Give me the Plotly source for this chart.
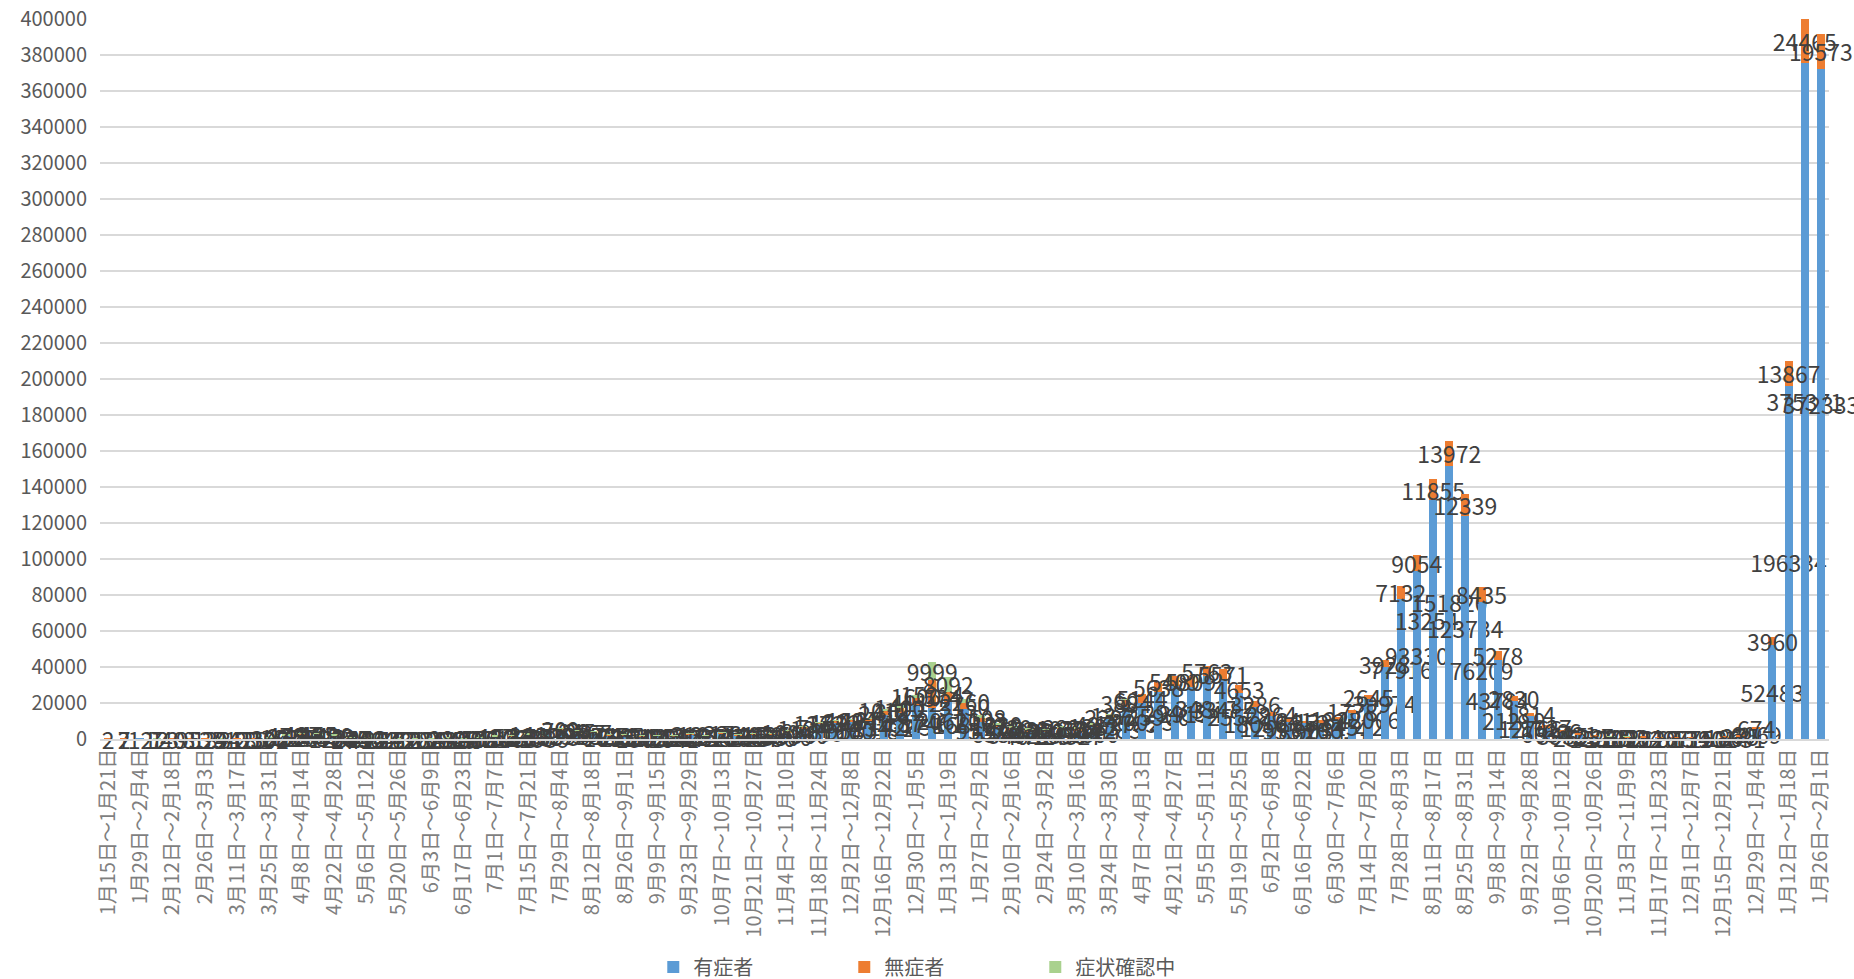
import plotly.graph_objects as go

categories = [
    "1月15日～1月21日", "1月22日～1月28日", "1月29日～2月4日", "2月5日～2月11日", "2月12日～2月18日",
    "2月19日～2月25日", "2月26日～3月3日", "3月4日～3月10日", "3月11日～3月17日", "3月18日～3月24日",
    "3月25日～3月31日", "4月1日～4月7日", "4月8日～4月14日", "4月15日～4月21日", "4月22日～4月28日",
    "4月29日～5月5日", "5月6日～5月12日", "5月13日～5月19日", "5月20日～5月26日", "5月27日～6月2日",
    "6月3日～6月9日", "6月10日～6月16日", "6月17日～6月23日", "6月24日～6月30日", "7月1日～7月7日",
    "7月8日～7月14日", "7月15日～7月21日", "7月22日～7月28日", "7月29日～8月4日", "8月5日～8月11日",
    "8月12日～8月18日", "8月19日～8月25日", "8月26日～9月1日", "9月2日～9月8日", "9月9日～9月15日",
    "9月16日～9月22日", "9月23日～9月29日", "9月30日～10月6日", "10月7日～10月13日", "10月14日～10月20日",
    "10月21日～10月27日", "10月28日～11月3日", "11月4日～11月10日", "11月11日～11月17日", "11月18日～11月24日",
    "11月25日～12月1日", "12月2日～12月8日", "12月9日～12月15日", "12月16日～12月22日", "12月23日～12月29日",
    "12月30日～1月5日", "1月6日～1月12日", "1月13日～1月19日", "1月20日～1月26日", "1月27日～2月2日",
    "2月3日～2月9日", "2月10日～2月16日", "2月17日～2月23日", "2月24日～3月2日", "3月3日～3月9日",
    "3月10日～3月16日", "3月17日～3月23日", "3月24日～3月30日", "3月31日～4月6日", "4月7日～4月13日",
    "4月14日～4月20日", "4月21日～4月27日", "4月28日～5月4日", "5月5日～5月11日", "5月12日～5月18日",
    "5月19日～5月25日", "5月26日～6月1日", "6月2日～6月8日", "6月9日～6月15日", "6月16日～6月22日",
    "6月23日～6月29日", "6月30日～7月6日", "7月7日～7月13日", "7月14日～7月20日", "7月21日～7月27日",
    "7月28日～8月3日", "8月4日～8月10日", "8月11日～8月17日", "8月18日～8月24日", "8月25日～8月31日",
    "9月1日～9月7日", "9月8日～9月14日", "9月15日～9月21日", "9月22日～9月28日", "9月29日～10月5日",
    "10月6日～10月12日", "10月13日～10月19日", "10月20日～10月26日", "10月27日～11月2日", "11月3日～11月9日",
    "11月10日～11月16日", "11月17日～11月23日", "11月24日～11月30日", "12月1日～12月7日", "12月8日～12月14日",
    "12月15日～12月21日", "12月22日～12月28日", "12月29日～1月4日", "1月5日～1月11日", "1月12日～1月18日",
    "1月19日～1月25日", "1月26日～2月1日",
]

# 有症者
symptomatic = [
    1, 7, 12, 12, 40, 95, 135, 294, 318, 251,
    302, 1829, 2296, 2595, 1284, 274, 414, 224, 172, 121,
    156, 212, 380, 579, 1214, 1453, 2383, 1539, 4993, 3989,
    3645, 1832, 2204, 1505, 1991, 1641, 2471, 1758, 3167, 2156,
    2467, 2580, 3800, 5560, 8059, 8701, 9586, 10018, 13432, 14265,
    18746, 17461, 20621, 16813, 9558, 6582, 5402, 4042, 4155, 5553,
    4327, 6800, 11283, 17785, 20023, 25900, 29485, 29154, 34817, 33485,
    25508, 18056, 12908, 9557, 8626, 9054, 10614, 14512, 22006, 39974,
    77916, 93330, 132541, 151820, 123734, 76209, 43784, 21289, 12766, 6637,
    3935, 2521, 1591, 1389, 1012, 912, 628, 625, 619, 753,
    1014, 1631, 6069, 52483, 196334, 375371, 372333,
]

# 無症者
asymptomatic = [
    2, 2, 1, 7, 3, 8, 13, 5, 13, 25,
    108, 230, 497, 455, 476, 285, 146, 64, 23, 20,
    84, 94, 65, 97, 160, 574, 389, 443, 782, 845,
    567, 527, 165, 512, 199, 259, 310, 287, 326, 414,
    408, 620, 1009, 1194, 1363, 1592, 1494, 1616, 2418, 3012,
    4112, 15234, 5742, 3150, 2003, 1250, 1030, 1223, 972, 1032,
    1764, 1283, 2297, 3884, 5144, 5638, 5409, 5809, 5763, 5571,
    4653, 3286, 2264, 1641, 1353, 1382, 1348, 1778, 2645, 3928,
    7132, 9054, 11855, 13972, 12339, 8435, 5278, 2830, 1814, 1027,
    666, 421, 287, 238, 192, 204, 110, 97, 134, 150,
    186, 275, 674, 3960, 13867, 24465, 19573,
]

# 症状確認中
checking = [
    None, None, None, 1, None, 2, 2, 4, 2, 4,
    390, 478, 414, 123, 499, 346, 252, 154, 181, 103,
    108, 288, 108, 408, 427, 121, 141, 153, 209, 28,
    27, 24, 16, 21, 14, 13, 13, 14, 17, 12,
    16, 20, 8, 7, 17, 31, 20, 27, 1012, 1400,
    1600, 9999, 8092, 2260, 1508, 1020, 730, 530, 360, 283,
    328, 427, 137, 60, None, None, None, None, None, None,
    None, None, None, None, None, None, None, None, None, None,
    None, None, None, None, None, None, None, None, None, None,
    None, None, None, 10, 12, None, None, None, None, None,
    None, None, None, None, None, None, None,
]

tick_labels = categories[::2]

series = [
    ("有症者", symptomatic, "#5B9BD5"),
    ("無症者", asymptomatic, "#ED7D31"),
    ("症状確認中", checking, "#A9D18E"),
]

FONT = "Noto Sans CJK JP"

fig = go.Figure()
for name, vals, color in series:
    fig.add_trace(go.Bar(
        x=categories,
        y=vals,
        name=name,
        marker=dict(color=color, line=dict(width=0)),
        text=["" if v is None else str(v) for v in vals],
        texttemplate="%{text}",
        textposition="inside",
        insidetextanchor="middle",
        textangle=0,
        constraintext="none",
        cliponaxis=False,
        textfont=dict(family=FONT, size=23, color="#404040"),
    ))

fig.update_layout(
    barmode="stack",
    bargap=0.5,
    width=1854,
    height=979,
    margin=dict(l=100, r=25, t=19, b=240, autoexpand=False),
    paper_bgcolor="white",
    plot_bgcolor="white",
    font=dict(family=FONT, color="#595959"),
    uniformtext=dict(minsize=23, mode="show"),
    legend=dict(
        orientation="h",
        x=0.32, xanchor="left",
        y=-0.3167, yanchor="middle",
        font=dict(family=FONT, size=20, color="#595959"),
        entrywidth=146, entrywidthmode="pixels",
        itemwidth=30,
        traceorder="normal",
    ),
    xaxis=dict(
        type="category",
        categoryorder="array",
        categoryarray=categories,
        tickmode="array",
        tickvals=tick_labels,
        ticktext=tick_labels,
        tickangle=-90,
        tickfont=dict(family=FONT, size=20, color="#7F7F7F"),
        showline=True,
        linecolor="#D9D9D9",
        linewidth=1.5,
        showgrid=False,
        ticks="",
        automargin=False,
    ),
    yaxis=dict(
        range=[0, 400000],
        dtick=20000,
        tickformat="d",
        showgrid=True,
        gridcolor="#D9D9D9",
        gridwidth=1.5,
        zeroline=False,
        tickfont=dict(family=FONT, size=20, color="#595959"),
        ticklabelstandoff=12,
        ticklabeloverflow="allow",
        ticks="",
        showline=False,
        automargin=False,
    ),
)

fig.write_html(
    "out.html",
    config={"displayModeBar": False},
    post_script="document.body.style.margin='0';document.body.style.overflow='hidden';",
)
